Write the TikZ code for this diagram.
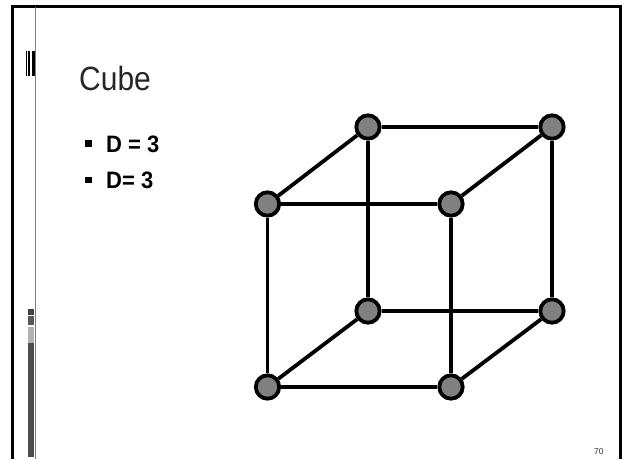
\documentclass[tikz,border=0pt]{standalone}
\usepackage{fontspec}
\setmainfont{Liberation Sans}
\begin{document}
\begin{tikzpicture}[x=1pt,y=-1pt,
  vertex/.style={draw=black, circle, fill=gray, line width=3.8pt, minimum size=23.4pt, inner sep=0pt},
  edge/.style={draw=black, line width=3.8pt},
  txt/.style={inner sep=0pt, anchor=base west},
  tall/.style={yscale=#1, transform shape},
  bar/.style={fill=#1, draw=none}]
  \useasboundingbox (0,0) rectangle (622,459);
  % slide frame and strip
  \coordinate (fa) at (12.5,459);
  \coordinate (fb) at (12.5,6.7);
  \coordinate (fc) at (622,6.7);
  \coordinate (fd) at (620.3,6.7);
  \coordinate (fe) at (620.3,459);
  \coordinate (la) at (35.7,6.7);
  \coordinate (lb) at (35.7,459);
  \draw[line width=2.8pt] (fa) -- (fb) -- (fc);
  \draw[line width=2.8pt] (fd) -- (fe);
  \draw[gray, line width=1.3pt] (la) -- (lb);
  % marks on the strip
  \fill[bar=black] (26,51) rectangle (27,76);
  \fill[bar=black] (28,51) rectangle (30,76);
  \fill[bar=black] (31.5,51) rectangle (35,76);
  \fill[bar=black!75] (28,309) rectangle (34,315);
  \fill[bar=black!65] (28,316) rectangle (34,325);
  \fill[bar=black!30] (28,327) rectangle (34,343);
  \fill[bar=black!70] (28,343) rectangle (34,457);
  % text
  \node[txt, tall=1.12, font=\fontsize{30}{30}\selectfont, text=black!85] (title) at (79,90) {Cube};
  \node[txt, tall=1.08, font=\fontsize{22}{22}\bfseries\selectfont] (la1) at (106,152) {D = 3};
  \node[txt, tall=1.08, font=\fontsize{22}{22}\bfseries\selectfont] (la2) at (106,188.5) {D= 3};
  \fill[bar=black] (85,140) rectangle (91.7,146.7);
  \fill[bar=black] (85,176.7) rectangle (91.7,183.3);
  \node[txt, font=\fontsize{8.5}{8.5}\selectfont, text=black!80] (page) at (594,454) {70};
  % cube
  \node[vertex] (ftl) at (267.5,204) {};
  \node[vertex] (ftr) at (451,204) {};
  \node[vertex] (fbl) at (267.5,387) {};
  \node[vertex] (fbr) at (451,387) {};
  \node[vertex] (btl) at (368,127) {};
  \node[vertex] (btr) at (552,127) {};
  \node[vertex] (bbl) at (368,311) {};
  \node[vertex] (bbr) at (552,311) {};
  \draw[edge] (ftl) -- (ftr);
  \draw[edge] (ftr) -- (fbr);
  \draw[edge] (fbr) -- (fbl);
  \draw[edge] (fbl) -- (ftl);
  \draw[edge] (btl) -- (btr);
  \draw[edge] (btr) -- (bbr);
  \draw[edge] (bbr) -- (bbl);
  \draw[edge] (bbl) -- (btl);
  \draw[edge] (ftl) -- (btl);
  \draw[edge] (ftr) -- (btr);
  \draw[edge] (fbl) -- (bbl);
  \draw[edge] (fbr) -- (bbr);
\end{tikzpicture}
\end{document}
